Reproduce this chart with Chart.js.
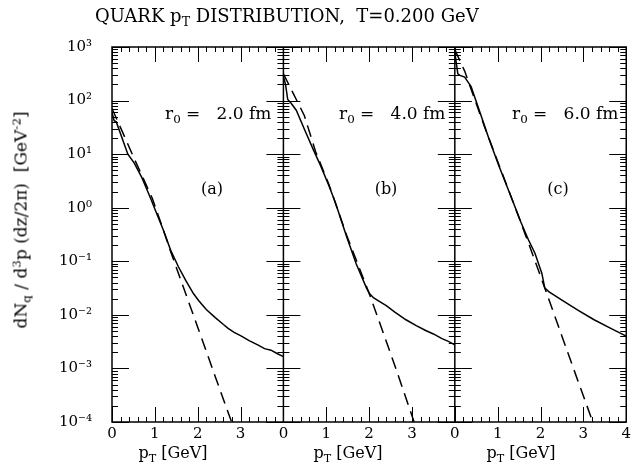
<!DOCTYPE html>
<html>
<head>
<meta charset="utf-8">
<script src="https://cdn.jsdelivr.net/npm/chart.js@4.4.1/dist/chart.umd.min.js"></script>
<style>
  body { margin: 0; background: #fff; }
  #wrap { position: relative; width: 634px; height: 467px; font-family: 'DejaVu Serif', serif; color: #000; }
  #wrap canvas { position: absolute; left: 0; top: 0; }
  .lbl { position: absolute; white-space: nowrap; line-height: 1; }
  .lbl sub { font-size: 0.7em; vertical-align: -0.35em; line-height: 0; }
  .lbl sup { font-size: 0.7em; vertical-align: 0.5em; line-height: 0; }
  #title { left: 95px; top: 7px; font-size: 18px; }
  #ylab { left: 21px; top: 220px; font-size: 17px; transform: translate(-50%, -50%) rotate(-90deg); }
  .r0 { font-size: 17px; top: 105px; }
  .tag { font-size: 16px; top: 181px; transform: translateX(-50%); }
  .xlab { font-size: 16px; top: 445px; transform: translateX(-50%); }
</style>
</head>
<body>
<div id="wrap">
  <canvas id="chart" width="634" height="467"></canvas>
  <div class="lbl" id="title">QUARK p<sub>T</sub> DISTRIBUTION,&nbsp;&nbsp;T=0.200 GeV</div>
  <div class="lbl" id="ylab">dN<sub>q</sub> / d<sup>3</sup>p (dz/2π)&nbsp;&nbsp;[GeV<sup>-2</sup>]</div>
  <div class="lbl r0" style="left:165px">r<sub>0</sub> =&nbsp;&nbsp; 2.0 fm</div>
  <div class="lbl r0" style="left:339px">r<sub>0</sub> =&nbsp;&nbsp; 4.0 fm</div>
  <div class="lbl r0" style="left:512px">r<sub>0</sub> =&nbsp;&nbsp; 6.0 fm</div>
  <div class="lbl tag" style="left:212px">(a)</div>
  <div class="lbl tag" style="left:386px">(b)</div>
  <div class="lbl tag" style="left:558px">(c)</div>
  <div class="lbl xlab" style="left:173px">p<sub>T</sub> [GeV]</div>
  <div class="lbl xlab" style="left:348px">p<sub>T</sub> [GeV]</div>
  <div class="lbl xlab" style="left:521px">p<sub>T</sub> [GeV]</div>
</div>
<script>
// panel (a): r0 = 2.0 fm
const ptA = [0, 0.05, 0.1, 0.37, 0.52, 0.7, 0.9, 1.0, 1.2, 1.37, 1.55, 1.72, 1.9, 2.02, 2.2, 2.41, 2.6, 2.71, 2.85, 3.02, 3.2, 3.4, 3.56, 3.71, 3.85, 4.0];
const solidA = [60, 42, 40, 10, 6.8, 3.6, 1.5, 0.95, 0.38, 0.16, 0.079, 0.044, 0.025, 0.0186, 0.0126, 0.0089, 0.0066, 0.0056, 0.0047, 0.0040, 0.0033, 0.00275, 0.00234, 0.00219, 0.0019, 0.00166];
const ptDashA = [0, 0.21, 0.5, 0.94, 1.2, 1.37, 1.7, 2.0, 2.4, 2.79, 2.85];
const dashA = [71, 30, 8.9, 1.5, 0.38, 0.151, 0.0275, 0.0059, 0.00074, 0.0001, 0.00007];

// panel (b): r0 = 4.0 fm
const ptB = [0, 0.05, 0.1, 0.18, 0.3, 0.5, 0.7, 0.86, 1.06, 1.21, 1.48, 1.7, 1.94, 2.01, 2.1, 2.2, 2.4, 2.6, 2.86, 3.1, 3.32, 3.5, 3.7, 3.85, 4.0];
const solidB = [282, 200, 105, 89, 66, 28, 12, 6.3, 2.6, 1.26, 0.28, 0.089, 0.0316, 0.025, 0.0209, 0.0186, 0.0148, 0.0112, 0.0081, 0.0063, 0.0051, 0.0044, 0.0036, 0.0032, 0.00275];
const ptDashB = [0, 0.22, 0.49, 0.75, 1.06, 1.48, 2.01, 2.3, 2.62, 3.05, 3.1];
const dashB = [316, 141, 52, 11.2, 2.75, 0.30, 0.024, 0.0054, 0.00102, 0.0001, 0.000079];

// panel (c): r0 = 6.0 fm
const ptC = [0, 0.07, 0.12, 0.23, 0.38, 0.6, 0.8, 1.03, 1.34, 1.55, 1.72, 1.87, 2.03, 2.1, 2.2, 2.49, 2.87, 3.25, 3.64, 4.0];
const solidC = [794, 316, 295, 275, 182, 56, 19, 6.0, 1.41, 0.52, 0.25, 0.141, 0.060, 0.0316, 0.0269, 0.019, 0.0123, 0.0081, 0.0056, 0.004];
const ptDashC = [0, 0.23, 0.42, 0.7, 1.03, 1.34, 1.72, 2.1, 2.5, 2.9, 3.22, 3.27];
const dashC = [891, 355, 132, 31.6, 6.3, 1.41, 0.219, 0.0316, 0.004, 0.00051, 0.0001, 0.000079];

// axes
const xTickLabels = ['0', '1', '2', '3', '0', '1', '2', '3', '0', '1', '2', '3', '4'];
const yDecades = [1e-4, 1e-3, 1e-2, 1e-1, 1e0, 1e1, 1e2, 1e3];
const yTickLabels = ['10⁻⁴', '10⁻³', '10⁻²', '10⁻¹', '10⁰', '10¹', '10²', '10³'];

const PANEL_W = 4; // each panel spans 0..4 GeV, panels laid side by side

function series(xs, ys, panel) {
  return xs.map((x, i) => ({ x: x + PANEL_W * panel, y: ys[i] }));
}

function line(data, dashed) {
  return {
    data: data,
    borderColor: '#000',
    borderWidth: 1.5,
    borderDash: dashed ? [12, 7] : [],
    pointRadius: 0,
    tension: 0,
    fill: false,
  };
}

// frame, panel borders and inward tick marks
const frameTicks = {
  id: 'frameTicks',
  afterDatasetsDraw(chart) {
    const { ctx, chartArea: a, scales: { x, y } } = chart;
    ctx.save();
    ctx.strokeStyle = '#000';
    ctx.lineWidth = 1;
    ctx.beginPath();
    // y ticks on each panel border
    const borders = [0, 4, 8, 12];
    for (let e = -4; e <= 3; e++) {
      for (let m = 1; m <= 9; m++) {
        if (e === 3 && m > 1) break;
        const py = Math.round(y.getPixelForValue(m * Math.pow(10, e))) + 0.5;
        const len = m === 1 ? 17 : 6;
        borders.forEach((b) => {
          const px = x.getPixelForValue(b);
          if (b < 12) { ctx.moveTo(px, py); ctx.lineTo(px + len, py); }
          if (b > 0) { ctx.moveTo(px, py); ctx.lineTo(px - len, py); }
        });
      }
    }
    // x ticks, top and bottom
    for (let p = 0; p < 3; p++) {
      for (let k = 0; k <= 20; k++) {
        const px = Math.round(x.getPixelForValue(p * PANEL_W + k * 0.2)) + 0.5;
        const len = k % 5 === 0 ? 15 : 5;
        ctx.moveTo(px, a.bottom); ctx.lineTo(px, a.bottom - len);
        ctx.moveTo(px, a.top); ctx.lineTo(px, a.top + len);
      }
    }
    ctx.stroke();
    ctx.lineWidth = 1.5;
    ctx.strokeRect(a.left, a.top, a.right - a.left, a.bottom - a.top);
    ctx.beginPath();
    [4, 8].forEach((b) => {
      const px = x.getPixelForValue(b);
      ctx.moveTo(px, a.top); ctx.lineTo(px, a.bottom);
    });
    ctx.stroke();
    ctx.restore();
  },
};

new Chart(document.getElementById('chart'), {
  type: 'line',
  data: {
    datasets: [
      line(series(ptA, solidA, 0), false),
      line(series(ptDashA, dashA, 0), true),
      line(series(ptB, solidB, 1), false),
      line(series(ptDashB, dashB, 1), true),
      line(series(ptC, solidC, 2), false),
      line(series(ptDashC, dashC, 2), true),
    ],
  },
  options: {
    responsive: false,
    animation: false,
    devicePixelRatio: 1,
    layout: { padding: { top: 47, right: 1, left: 0, bottom: 0 } },
    plugins: { legend: { display: false }, tooltip: { enabled: false } },
    scales: {
      x: {
        type: 'linear',
        min: 0,
        max: 12,
        afterFit: (scale) => { scale.height = 45; },
        grid: { display: false, drawTicks: false },
        border: { display: false },
        ticks: {
          stepSize: 1,
          autoSkip: false,
          maxRotation: 0,
          padding: 3,
          color: '#000',
          font: { family: 'DejaVu Serif', size: 15 },
          callback: (v) => xTickLabels[Math.round(v)] ?? '',
        },
      },
      y: {
        type: 'logarithmic',
        min: 1e-4,
        max: 1e3,
        afterFit: (scale) => { scale.width = 112; },
        grid: { display: false, drawTicks: false },
        border: { display: false },
        ticks: {
          autoSkip: false,
          padding: 20,
          color: '#000',
          font: { family: 'DejaVu Serif', size: 15 },
          callback: (v) => {
            const i = yDecades.findIndex((d) => Math.abs(v / d - 1) < 1e-6);
            return i >= 0 ? yTickLabels[i] : '';
          },
        },
      },
    },
  },
  plugins: [frameTicks],
});
</script>
</body>
</html>
